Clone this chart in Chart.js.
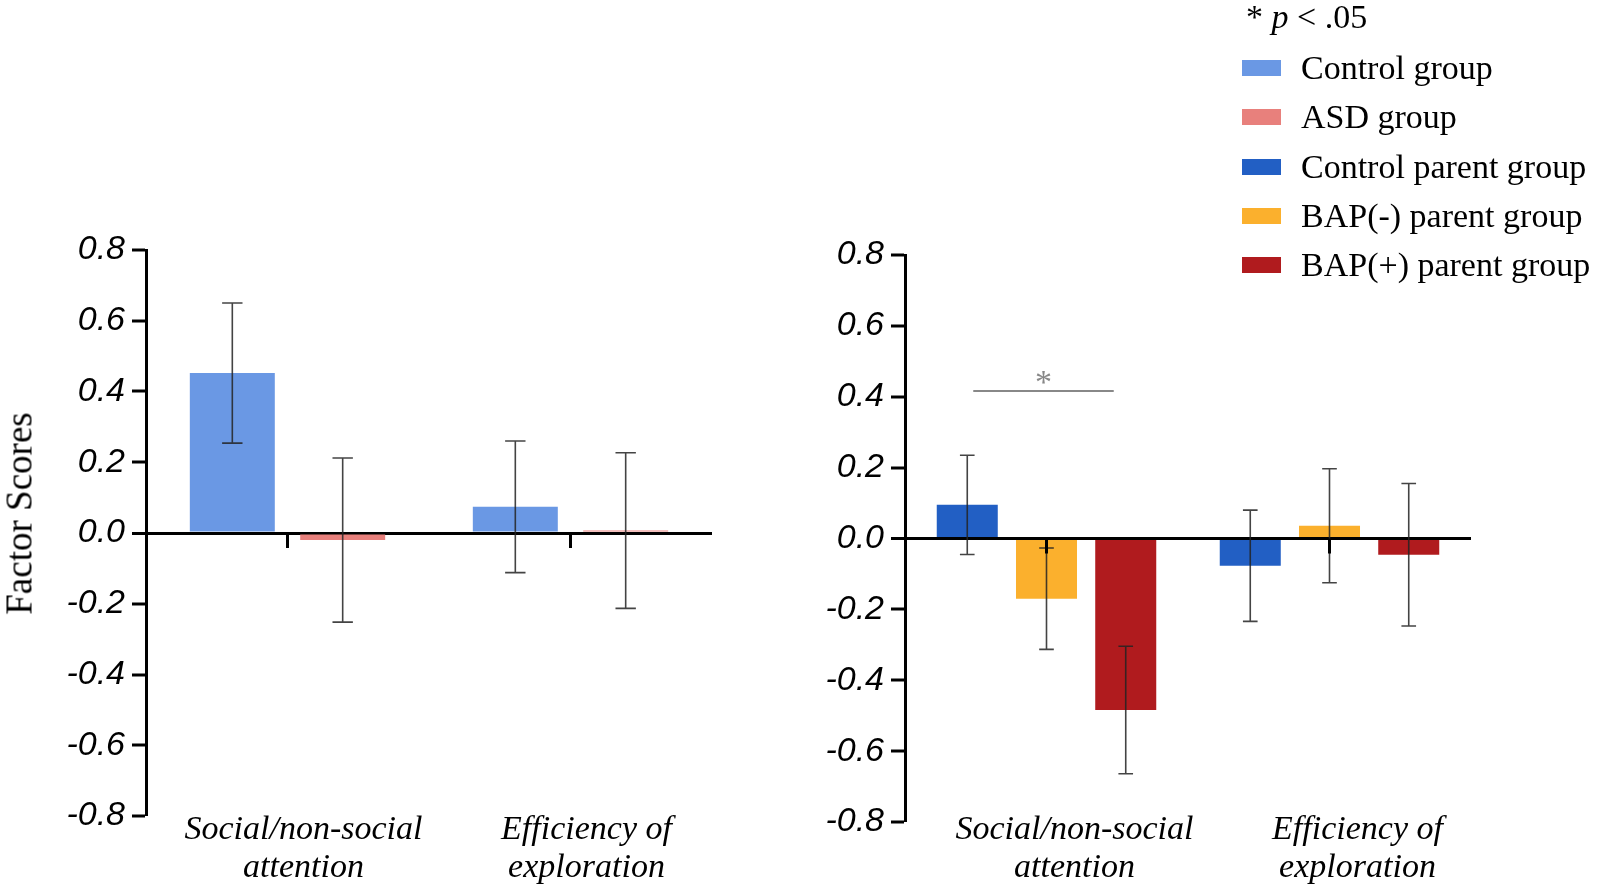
<!DOCTYPE html>
<html>
<head>
    <title>Factor Scores</title>
    <script src="https://cdn.jsdelivr.net/npm/chart.js@4.4.1/dist/chart.umd.min.js"></script>
    <style>
        body {
            margin: 0;
            background-color: white;
            font-family: "Liberation Serif", "Times New Roman", serif;
        }
        .page {
            position: relative;
            width: 1599px;
            height: 889px;
            overflow: hidden;
        }
        .panel {
            position: absolute;
            top: 0;
            height: 889px;
        }
        .ytitle {
            position: absolute;
            left: -131px;
            top: 494.5px;
            width: 300px;
            height: 37px;
            line-height: 37px;
            font-size: 37px;
            text-align: center;
            transform: rotate(-90deg);
            white-space: nowrap;
        }
        #legend {
            position: absolute;
            left: 1218px;
            top: 0;
            font-size: 34px;
            color: black;
        }
        #legend .note {
            position: absolute;
            left: 28px;
            top: 0;
            line-height: 34px;
            white-space: nowrap;
        }
        #legend .row {
            position: absolute;
            left: 24px;
            display: flex;
            align-items: center;
            height: 34px;
            line-height: 34px;
            white-space: nowrap;
        }
        #legend .swatch {
            width: 39px;
            height: 16px;
            margin-right: 20px;
        }
    </style>
</head>
<body>
    <div class="page">
        <div class="panel" style="left:0; width:760px;"><canvas id="childChart"></canvas></div>
        <div class="panel" style="left:759px; width:840px;"><canvas id="parentChart"></canvas></div>
        <div class="ytitle">Factor Scores</div>
        <div id="legend"></div>
    </div>

    <script>
        // categories on the x axis (two-line labels)
        const categories = [['Social/non-social', 'attention'], ['Efficiency of', 'exploration']];
        const yTicks = [-0.8, -0.6, -0.4, -0.2, 0.0, 0.2, 0.4, 0.6, 0.8];

        // left panel: children
        const childGroups = ['Control group', 'ASD group'];
        const childColors = ['#6A98E4', '#E8807C'];
        const controlMeans = [0.452, 0.074];
        const controlErr = [0.198, 0.186];
        const asdMeans = [-0.020, 0.007];
        const asdErr = [0.232, 0.220];

        // right panel: parents
        const parentGroups = ['Control parent group', 'BAP(-) parent group', 'BAP(+) parent group'];
        const parentColors = ['#225FC4', '#FBB02D', '#B01B1E'];
        const controlParentMeans = [0.095, -0.077];
        const controlParentErr = [0.140, 0.157];
        const bapMinusMeans = [-0.170, 0.036];
        const bapMinusErr = [0.143, 0.161];
        const bapPlusMeans = [-0.484, -0.046];
        const bapPlusErr = [0.180, 0.201];

        // significance bracket: category 0, between dataset 0 and dataset 2
        const sigBracket = { category: 0, from: 0, to: 2, value: 0.416, label: '*' };

        // error bars, zero-line category ticks and significance marks
        const extrasPlugin = {
            id: 'extras',
            afterDatasetsDraw(chart, args, opts) {
                const ctx = chart.ctx;
                const yScale = chart.scales.y;
                const xScale = chart.scales.x;
                const zeroY = yScale.getPixelForValue(0);
                ctx.save();

                // error bars
                chart.data.datasets.forEach((ds, di) => {
                    const meta = chart.getDatasetMeta(di);
                    meta.data.forEach((bar, i) => {
                        const m = ds.data[i];
                        const e = ds.errors[i];
                        const yTop = yScale.getPixelForValue(m + e);
                        const yBot = yScale.getPixelForValue(m - e);
                        const cap = bar.width * 0.12;
                        ctx.strokeStyle = 'rgba(35,35,35,0.85)';
                        ctx.lineWidth = 1.6;
                        ctx.beginPath();
                        ctx.moveTo(bar.x, yTop);
                        ctx.lineTo(bar.x, yBot);
                        ctx.moveTo(bar.x - cap, yTop);
                        ctx.lineTo(bar.x + cap, yTop);
                        ctx.moveTo(bar.x - cap, yBot);
                        ctx.lineTo(bar.x + cap, yBot);
                        ctx.stroke();
                    });
                });

                // short category ticks hanging below the zero line
                ctx.strokeStyle = 'black';
                ctx.lineWidth = 3;
                categories.forEach((c, i) => {
                    const x = xScale.getPixelForValue(i);
                    ctx.beginPath();
                    ctx.moveTo(x, zeroY);
                    ctx.lineTo(x, zeroY + 15);
                    ctx.stroke();
                });

                // significance line with asterisk
                if (opts.sig) {
                    const s = opts.sig;
                    const x1 = chart.getDatasetMeta(s.from).data[s.category].x + 6;
                    const x2 = chart.getDatasetMeta(s.to).data[s.category].x - 12;
                    const y = yScale.getPixelForValue(s.value);
                    ctx.strokeStyle = '#888888';
                    ctx.lineWidth = 2;
                    ctx.beginPath();
                    ctx.moveTo(x1, y);
                    ctx.lineTo(x2, y);
                    ctx.stroke();
                    ctx.fillStyle = '#888888';
                    ctx.font = '34px "Liberation Serif", serif';
                    ctx.textAlign = 'center';
                    ctx.textBaseline = 'alphabetic';
                    ctx.fillText(s.label, (x1 + x2) / 2, y + 2);
                }
                ctx.restore();
            }
        };

        function makeOptions(topPad, rightPad, bottomPad, labelPad, labelOffset, sig) {
            return {
                responsive: true,
                maintainAspectRatio: false,
                animation: false,
                layout: { padding: { top: topPad, right: rightPad, left: 0, bottom: bottomPad } },
                plugins: {
                    legend: { display: false },
                    tooltip: { enabled: false },
                    extras: { sig: sig }
                },
                scales: {
                    x: {
                        // category labels hang below the bottom of the value range
                        position: { y: -0.8 },
                        border: { display: false },
                        grid: { display: false, drawTicks: false },
                        ticks: {
                            color: 'black',
                            padding: labelPad,
                            labelOffset: labelOffset,
                            maxRotation: 0,
                            autoSkip: false,
                            font: { family: '"Liberation Serif", "Times New Roman", serif', size: 34, style: 'italic', lineHeight: 1.12 }
                        }
                    },
                    y: {
                        min: -0.8,
                        max: 0.8,
                        afterFit(scale) { scale.width = 146; },
                        afterBuildTicks(scale) { scale.ticks = yTicks.map(v => ({ value: v })); },
                        border: { display: true, color: 'black', width: 3 },
                        grid: {
                            drawOnChartArea: true,
                            color: c => (c.tick && c.tick.value === 0 ? 'black' : 'rgba(0,0,0,0)'),
                            lineWidth: c => (c.tick && c.tick.value === 0 ? 3 : 0),
                            tickColor: 'black',
                            tickWidth: 3,
                            tickLength: 14
                        },
                        ticks: {
                            color: 'black',
                            padding: 7,
                            callback: v => Number(v).toFixed(1),
                            font: { family: '"Liberation Sans", Arial, sans-serif', size: 34, style: 'italic' }
                        }
                    }
                }
            };
        }

        new Chart(document.getElementById('childChart'), {
            type: 'bar',
            data: {
                labels: categories,
                datasets: [{
                    label: childGroups[0],
                    data: controlMeans,
                    errors: controlErr,
                    backgroundColor: childColors[0],
                    categoryPercentage: 0.78,
                    barPercentage: 0.77
                }, {
                    label: childGroups[1],
                    data: asdMeans,
                    errors: asdErr,
                    backgroundColor: childColors[1],
                    categoryPercentage: 0.78,
                    barPercentage: 0.77
                }]
            },
            options: makeOptions(250, 48, 73, -5, 16, null),
            plugins: [extrasPlugin]
        });

        new Chart(document.getElementById('parentChart'), {
            type: 'bar',
            data: {
                labels: categories,
                datasets: [{
                    label: parentGroups[0],
                    data: controlParentMeans,
                    errors: controlParentErr,
                    backgroundColor: parentColors[0],
                    categoryPercentage: 0.84,
                    barPercentage: 0.77
                }, {
                    label: parentGroups[1],
                    data: bapMinusMeans,
                    errors: bapMinusErr,
                    backgroundColor: parentColors[1],
                    categoryPercentage: 0.84,
                    barPercentage: 0.77
                }, {
                    label: parentGroups[2],
                    data: bapPlusMeans,
                    errors: bapPlusErr,
                    backgroundColor: parentColors[2],
                    categoryPercentage: 0.84,
                    barPercentage: 0.77
                }]
            },
            options: makeOptions(255, 128, 67, -11, 28, sigBracket),
            plugins: [extrasPlugin]
        });

        // legend for both panels
        const legendNames = childGroups.concat(parentGroups);
        const legendColors = childColors.concat(parentColors);
        let legendHtml = '<div class="note">* <i>p</i> &lt; .05</div>';
        legendNames.forEach((name, i) => {
            const top = 51 + i * 49.25;
            legendHtml += `<div class="row" style="top:${top}px">
                <div class="swatch" style="background:${legendColors[i]}"></div>${name}</div>`;
        });
        document.getElementById('legend').innerHTML = legendHtml;
    </script>
</body>
</html>
